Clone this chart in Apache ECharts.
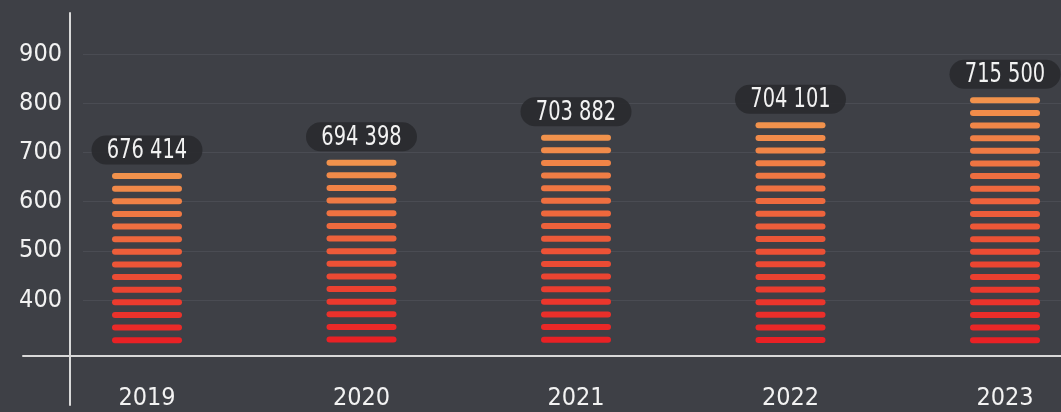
<!DOCTYPE html>
<html><head><meta charset="utf-8">
<script src="https://cdn.jsdelivr.net/npm/echarts@6/dist/echarts.min.js"></script>
<style>html,body{margin:0;padding:0;background:#3e4046;}#c{width:1061px;height:412px;}</style>
</head><body><div id="c"></div>
<script>
// ---- data ----
const years = ['2019', '2020', '2021', '2022', '2023'];
const labelValues = [676414, 694398, 703882, 704101, 715500];
// top of each striped column
const barTops = [652, 679, 730, 755, 806];
const yMin = 300, yMax = 900, yStep = 100;

// ---- style ----
const FONT = '"Liberation Sans Narrow", "DejaVu Sans Condensed", "Roboto Condensed", sans-serif';
const TXT = '#f2f2f2';
const TOP = [241, 146, 76], BOT = [233, 33, 37];
function mix(t) {
  const c = TOP.map((a, j) => Math.round(a + (BOT[j] - a) * t));
  return 'rgb(' + c.join(',') + ')';
}
function fmt(v) { return String(v).replace(/\B(?=(\d{3})+(?!\d))/g, ' '); }

function renderItem(params, api) {
  const i = api.value(0), v = api.value(1);
  const top = api.coord([i, v]);
  const base = api.coord([i, yMin]);
  const pitch = 12.63, segH = 6, segW = 70;
  const n = Math.floor((base[1] - top[1]) / pitch) + 1;
  const children = [];
  for (let k = 0; k < n; k++) {
    const t = n > 1 ? k / (n - 1) : 0;
    const cy = top[1] + k * pitch;
    children.push({
      type: 'rect',
      shape: { x: top[0] - segW / 2, y: cy - segH / 2, width: segW, height: segH, r: segH / 2 },
      style: { fill: mix(t) }
    });
  }
  const ly = top[1] - 26;
  children.push({
    type: 'rect',
    shape: { x: top[0] - 55.5, y: ly - 14.5, width: 111, height: 29, r: 14.5 },
    style: { fill: 'rgba(42,43,47,0.95)' }
  });
  children.push({
    type: 'text',
    x: top[0], y: ly + 1, scaleX: 0.8,
    style: {
      text: fmt(labelValues[params.dataIndex]), x: 0, y: 0,
      align: 'center', verticalAlign: 'middle', fill: TXT,
      fontSize: 27, fontFamily: FONT
    }
  });
  return { type: 'group', children };
}

const chart = echarts.init(document.getElementById('c'), null, { renderer: 'canvas' });
chart.setOption({
  animation: false,
  backgroundColor: '#3e4046',
  grid: [
    { left: 39.75, width: 1072.5, top: 54, bottom: 62.8, outerBoundsMode: 'none', containLabel: false },  // columns
    { left: 23, right: 0, top: 13, bottom: 7, outerBoundsMode: 'none', containLabel: false },              // crossing axis lines
    { left: 83, right: 0, top: 54, bottom: 62.8, outerBoundsMode: 'none', containLabel: false }            // faint grid lines
  ],
  xAxis: [
    {
      gridIndex: 0, type: 'category', data: years, boundaryGap: true,
      axisLine: { show: false }, axisTick: { show: false },
      axisLabel: { color: TXT, fontSize: 25, fontFamily: FONT, margin: 37 }
    },
    {
      gridIndex: 1, type: 'value', min: 0, max: 1, position: 'bottom', offset: -49,
      axisLine: { show: true, onZero: false, lineStyle: { color: '#d9d9d9', width: 2 } },
      axisTick: { show: false }, axisLabel: { show: false }, splitLine: { show: false }
    },
    {
      gridIndex: 2, type: 'value', min: 0, max: 1, show: false
    }
  ],
  yAxis: [
    {
      gridIndex: 0, type: 'value', min: yMin, max: yMax, interval: yStep, offset: -30.25,
      axisLine: { show: false }, axisTick: { show: false }, splitLine: { show: false },
      axisLabel: { color: TXT, fontSize: 25, fontFamily: FONT, margin: 8, showMinLabel: false }
    },
    {
      gridIndex: 1, type: 'value', min: 0, max: 1, position: 'left', offset: -47,
      axisLine: { show: true, onZero: false, lineStyle: { color: '#d9d9d9', width: 2 } },
      axisTick: { show: false }, axisLabel: { show: false }, splitLine: { show: false }
    },
    {
      gridIndex: 2, type: 'value', min: yMin, max: yMax, interval: yStep,
      axisLine: { show: false }, axisTick: { show: false }, axisLabel: { show: false },
      splitLine: { show: true, showMinLine: false, lineStyle: { color: '#4a4c53', width: 1 } }
    }
  ],
  series: [{
    type: 'custom',
    xAxisIndex: 0, yAxisIndex: 0,
    renderItem: renderItem,
    data: years.map((y, i) => [i, barTops[i]])
  }]
});
</script></body></html>
